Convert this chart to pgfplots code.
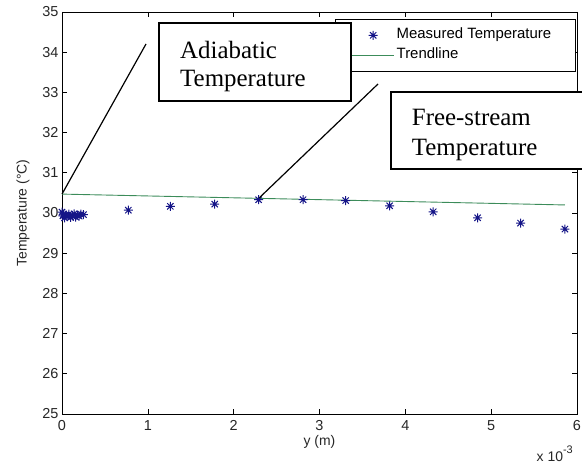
\documentclass[border=0pt]{standalone}
\usepackage{fontspec}
\setmainfont{Liberation Sans}
\newfontfamily\seriffont{Liberation Serif}
\usepackage{pgfplots}
\pgfplotsset{compat=1.18}

\definecolor{starblue}{RGB}{20,20,135}
\definecolor{trendgreen}{RGB}{60,140,90}

\pgfdeclareplotmark{mstar}{%
  \pgfpathmoveto{\pgfpoint{-\pgfplotmarksize}{0pt}}\pgfpathlineto{\pgfpoint{\pgfplotmarksize}{0pt}}%
  \pgfpathmoveto{\pgfpoint{0pt}{-\pgfplotmarksize}}\pgfpathlineto{\pgfpoint{0pt}{\pgfplotmarksize}}%
  \pgfpathmoveto{\pgfpoint{-0.7\pgfplotmarksize}{-0.7\pgfplotmarksize}}\pgfpathlineto{\pgfpoint{0.7\pgfplotmarksize}{0.7\pgfplotmarksize}}%
  \pgfpathmoveto{\pgfpoint{-0.7\pgfplotmarksize}{0.7\pgfplotmarksize}}\pgfpathlineto{\pgfpoint{0.7\pgfplotmarksize}{-0.7\pgfplotmarksize}}%
  \pgfusepathqstroke}

\pgfplotsset{
  legstar/.style={legend image code/.code={\path (-8bp,0bp) (42bp,0bp);
    \draw[mark repeat=2,mark phase=2,##1] plot coordinates {(0bp,0bp) (21bp,0bp) (42bp,0bp)};}},
  legline/.style={legend image code/.code={\path (-8bp,0bp) (42bp,0bp);
    \draw[##1] (0bp,0bp) -- (42bp,0bp);}},
}

\begin{document}
\begin{tikzpicture}[x=1bp,y=1bp]
\clip (0,0) rectangle (582,466);
\begin{axis}[
  at={(62bp,52bp)}, anchor=south west,
  scale only axis, width=515bp, height=402bp,
  xmin=0, xmax=6, ymin=25, ymax=35,
  xtick={0,1,2,3,4,5,6}, ytick={25,26,...,35},
  tick pos=both, tick align=inside,
  major tick length=5bp,
  axis line style={line width=0.6bp},
  every tick/.style={black, line width=0.6bp},
  /pgf/number format/assume math mode=true,
  tick label style={font=\fontsize{14.5}{16}\selectfont, color=black!85},
  xticklabel style={yshift=-3bp},
  label style={font=\fontsize{14}{16}\selectfont, color=black!85},
  xlabel={y (m)},
  ylabel={Temperature (°C)},
  xlabel style={at={(axis description cs:0.5,-0.069)}, anchor=center},
  ylabel style={at={(axis description cs:-0.0757,0.5)}, anchor=center},
  legend style={at={(rel axis cs:0.998,0.9826)}, anchor=north east,
    draw=black, line width=0.6bp, fill=white,
    font=\fontsize{15}{17}\selectfont,
    inner xsep=8bp, inner ysep=7.5bp, row sep=3bp,
    nodes={text height=10bp, text depth=3bp, inner ysep=2bp}},
  legend cell align=left,
]
\addplot[only marks, mark=mstar, mark size=4.5bp, color=starblue, line width=1bp, legstar]
coordinates {
(0,30.02) (0.01,29.93) (0.02,29.97) (0.03,29.88) (0.045,29.95) (0.06,29.91)
(0.08,29.97) (0.10,29.89) (0.12,29.94) (0.14,29.98) (0.16,29.90) (0.18,29.95)
(0.20,29.92) (0.22,29.97) (0.25,29.96)
(0.773,30.07) (1.262,30.165) (1.779,30.22) (2.291,30.33) (2.808,30.33)
(3.305,30.31) (3.817,30.18) (4.325,30.03) (4.842,29.88) (5.342,29.75) (5.859,29.60)
};
\addlegendentry{\makebox[169bp][l]{Measured Temperature}}
\addplot[color=trendgreen, line width=0.9bp, legline]
coordinates {(0,30.47) (5.86,30.20)};
\addlegendentry{Trendline}
\coordinate (ad) at (axis cs:0,30.47);
\coordinate (fs) at (axis cs:2.30,30.38);
\end{axis}
% annotations
\draw[line width=1.2bp] (ad) -- (146,422);
\draw[line width=1.2bp] (fs) -- (378,382);
\draw[line width=1.3bp, fill=white] (159,443) rectangle (351,365);
\node[anchor=base west, inner sep=0pt, font=\seriffont\fontsize{25}{30}\selectfont] at (180,407.7) {Adiabatic};
\node[anchor=base west, inner sep=0pt, font=\seriffont\fontsize{25}{30}\selectfont] at (180,379.3) {Temperature};
\draw[line width=1.3bp, fill=white] (391,374) rectangle (600,297);
\node[anchor=base west, inner sep=0pt, font=\seriffont\fontsize{25}{30}\selectfont] at (411.7,340.3) {Free-stream};
\node[anchor=base west, inner sep=0pt, font=\seriffont\fontsize{25}{30}\selectfont] at (411.7,310) {Temperature};
% x 10^-3 multiplier
\node[anchor=base east, inner sep=0pt, font=\fontsize{14}{16}\selectfont, color=black!85] at (573,4) {x 10\raisebox{8bp}{\fontsize{11}{12}\selectfont -3}};
\end{tikzpicture}
\end{document}
